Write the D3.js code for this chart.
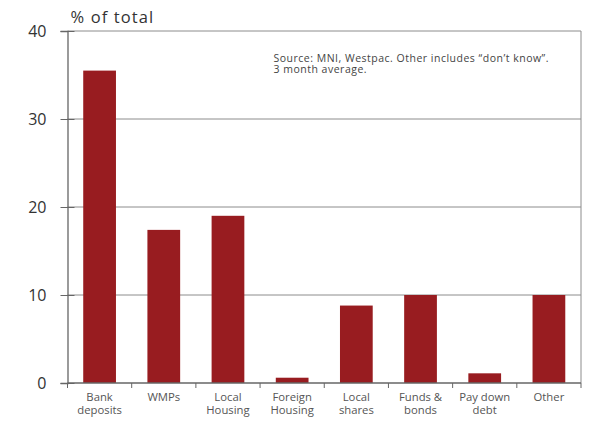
<!DOCTYPE html>
<html>
<head>
<meta charset="utf-8">
<script src="https://cdn.jsdelivr.net/npm/d3@7"></script>
<style>
  body { margin: 0; background: #fff; }
  text { font-family: "Open Sans", "Noto Sans", sans-serif; }
</style>
</head>
<body>
<script>
var categories = ["Bank\ndeposits", "WMPs", "Local\nHousing", "Foreign\nHousing", "Local\nshares", "Funds &\nbonds", "Pay down\ndebt", "Other"];
var values = [35.5, 17.4, 19.0, 0.6, 8.8, 10.0, 1.1, 10.0];
var yTicks = [0, 10, 20, 30, 40];

var margin = { left: 67.5, right: 11, top: 31, bottom: 44 };
var width = 592 - margin.left - margin.right;
var height = 427 - margin.top - margin.bottom;

var svg = d3.select("body").append("svg")
    .attr("width", 592)
    .attr("height", 427)
    .append("g")
    .attr("transform", `translate(${margin.left}, ${margin.top})`);

var x = d3.scaleBand()
    .domain(categories)
    .range([0, width])
    .paddingInner(0.49)
    .paddingOuter(0.245);

var y = d3.scaleLinear()
    .domain([0, 40])
    .range([height, 0]);

// gridlines
svg.selectAll(".grid")
    .data(yTicks.filter(d => d > 0))
    .enter()
    .append("line")
    .attr("x1", 0)
    .attr("x2", width)
    .attr("y1", d => y(d))
    .attr("y2", d => y(d))
    .attr("stroke", "#8c8c8c")
    .attr("stroke-width", 1);

// right border
svg.append("line")
    .attr("x1", width).attr("x2", width)
    .attr("y1", 0).attr("y2", height)
    .attr("stroke", "#8c8c8c");

// bars
svg.selectAll("rect")
    .data(values)
    .enter()
    .append("rect")
    .attr("x", (d, i) => x(categories[i]))
    .attr("y", d => y(d))
    .attr("width", x.bandwidth())
    .attr("height", d => height - y(d))
    .attr("fill", "#981c20");

// y axis
var yAxis = svg.append("g")
    .call(d3.axisLeft(y).tickValues(yTicks).tickSize(7).tickPadding(14));
yAxis.select(".domain").attr("stroke", "#666").attr("stroke-width", 1.3);
yAxis.selectAll(".tick line").attr("stroke", "#666").attr("x2", 7).attr("x1", -7);
yAxis.selectAll(".tick text")
    .attr("font-size", 16)
    .attr("fill", "#333")
    .style("font-family", "'Open Sans', sans-serif");

// x axis, ticks sit between the categories
var xAxis = svg.append("g")
    .attr("transform", `translate(0, ${height})`);
xAxis.append("line")
    .attr("x1", 0).attr("x2", width)
    .attr("stroke", "#666").attr("stroke-width", 1.3);
xAxis.selectAll(".bt")
    .data(d3.range(categories.length + 1))
    .enter()
    .append("line")
    .attr("x1", i => i * x.step())
    .attr("x2", i => i * x.step())
    .attr("y1", 0).attr("y2", 5)
    .attr("stroke", "#666");

categories.forEach(function (c) {
    c.split("\n").forEach(function (line, i) {
        xAxis.append("text")
            .attr("x", x(c) + x.bandwidth() / 2)
            .attr("y", 18 + i * 13)
            .attr("text-anchor", "middle")
            .attr("font-size", 11.3)
            .attr("fill", "#555")
            .text(line);
    });
});

// titles
svg.append("text")
    .attr("x", 3)
    .attr("y", -8.5)
    .attr("font-size", 16.5)
    .attr("letter-spacing", 1.1)
    .attr("fill", "#333")
    .text("% of total");

svg.append("text")
    .attr("x", 206)
    .attr("y", 30.5)
    .attr("font-size", 10.5)
    .attr("letter-spacing", 0.5)
    .attr("fill", "#444")
    .text("Source: MNI, Westpac. Other includes “don’t know”.");
svg.append("text")
    .attr("x", 206)
    .attr("y", 41.5)
    .attr("font-size", 10.5)
    .attr("letter-spacing", 0.5)
    .attr("fill", "#444")
    .text("3 month average.");
</script>
</body>
</html>
